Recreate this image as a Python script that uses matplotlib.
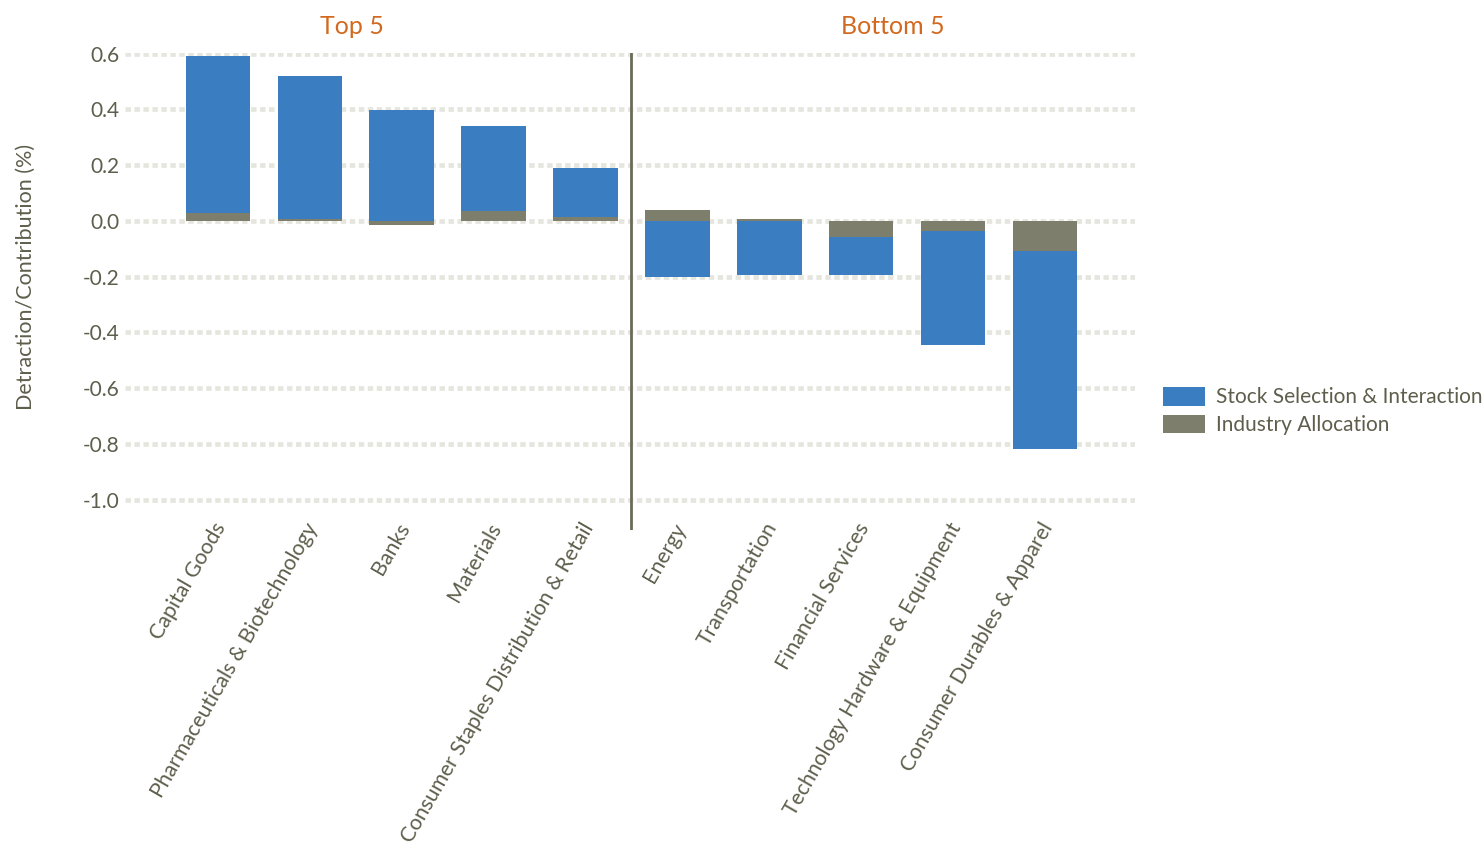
import matplotlib
matplotlib.use('Agg')
import matplotlib.pyplot as plt
import matplotlib.transforms as mtransforms
from matplotlib.patches import Patch
import numpy as np

# 字体：接近 Calibri 的无衬线字体
plt.rcParams['font.family'] = ['Lato', 'DejaVu Sans']

# 数据
categories = ['Capital Goods', 'Pharmaceuticals & Biotechnology', 'Banks', 'Materials',
              'Consumer Staples Distribution & Retail', 'Energy', 'Transportation',
              'Financial Services', 'Technology Hardware & Equipment', 'Consumer Durables & Apparel']
industry_alloc = [0.028, 0.005, -0.016, 0.034, 0.013, 0.040, 0.005, -0.058, -0.036, -0.108]
stock_selection = [0.562, 0.514, 0.396, 0.305, 0.177, -0.200, -0.195, -0.137, -0.410, -0.710]
group_titles = ['Top 5', 'Bottom 5']
yticks = [0.6, 0.4, 0.2, 0.0, -0.2, -0.4, -0.6, -0.8, -1.0]

BLUE = '#3A7DC1'
GRAY = '#7E7E6C'
TEXT = '#5E5E4C'
ORANGE = '#D2691E'

fig = plt.figure(figsize=(14.84, 8.51), dpi=100)
ax = fig.add_axes([0.0842, 0.377, 0.6808, 0.561])

x = np.arange(len(categories))
alloc = np.array(industry_alloc)
stock = np.array(stock_selection)
# 同号时堆叠在配置部分之上，异号时从 0 开始
bottom = np.where(np.sign(alloc) == np.sign(stock), alloc, 0.0)

ax.bar(x, alloc, width=0.7, color=GRAY, zorder=3)
ax.bar(x, stock, width=0.7, bottom=bottom, color=BLUE, zorder=3)

ax.set_xlim(-1.01, 9.98)
ax.set_ylim(-1.11, 0.603)
ax.set_yticks(yticks)
ax.set_yticklabels(['{:.1f}'.format(v) for v in yticks])
ax.tick_params(axis='y', length=0, pad=4, labelsize=15, labelcolor=TEXT)
ax.tick_params(axis='x', length=0, pad=0)

for v in yticks:
    ax.axhline(v, color='#E6E6DF', lw=3.4, linestyle=(0, (1.15, 0.75)), zorder=1)

for s in ax.spines.values():
    s.set_visible(False)

# 分隔线
ax.axvline(4.5, color='#6B6B5B', lw=2.0, zorder=4)

# 分类标签
ax.set_xticks(x)
ax.set_xticklabels(categories, rotation=60, ha='right', fontsize=15.3, color=TEXT)
offset = mtransforms.ScaledTranslation(12 / 100, 11 / 100, fig.dpi_scale_trans)
for lab in ax.get_xticklabels():
    lab.set_transform(lab.get_transform() + offset)

ax.set_ylabel('Detraction/Contribution (%)', fontsize=15.5, color=TEXT)
ax.yaxis.set_label_coords(-0.088, 0.53)

# 组标题
ax.text(1.46, 1.03, group_titles[0], transform=ax.get_xaxis_transform(),
        ha='center', va='bottom', fontsize=18, color=ORANGE)
ax.text(7.34, 1.03, group_titles[1], transform=ax.get_xaxis_transform(),
        ha='center', va='bottom', fontsize=18, color=ORANGE)

handles = [Patch(facecolor=BLUE, label='Stock Selection & Interaction'),
           Patch(facecolor=GRAY, label='Industry Allocation')]
leg = fig.legend(handles=handles, loc='upper left', bbox_to_anchor=(0.778, 0.555),
                 frameon=False, fontsize=15, handlelength=2.0, handleheight=1.0,
                 handletextpad=0.55, labelspacing=0.35, borderaxespad=0)
for t in leg.get_texts():
    t.set_color(TEXT)

fig.savefig('out.png', dpi=100)
